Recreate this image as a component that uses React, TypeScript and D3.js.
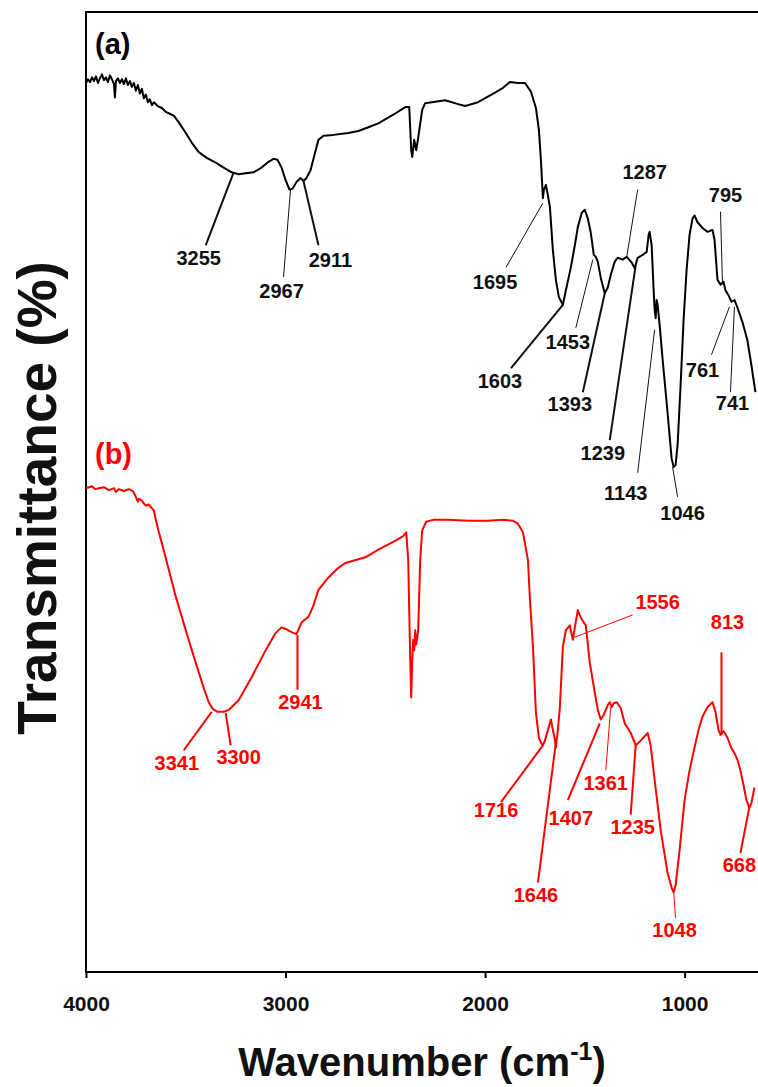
import React, { useEffect, useRef } from "react";
import * as d3 from "d3";

// FTIR spectra, wavenumber (cm-1) vs transmittance (arbitrary offset units 0-100)
const xTicks = [4000, 3000, 2000, 1000];

const spectrumA: [number, number][] = [
  [4000, 92.6], [3990, 93.0], [3980, 92.7], [3970, 93.2], [3960, 92.8], [3950, 93.3],
  [3940, 92.6], [3930, 93.1], [3920, 93.5], [3910, 92.9], [3900, 93.2], [3890, 92.7],
  [3880, 93.4], [3870, 93.0], [3860, 92.5], [3855, 91.1], [3850, 92.8], [3840, 93.1],
  [3830, 92.6], [3820, 93.0], [3810, 92.5], [3800, 93.1], [3790, 92.4], [3780, 92.8],
  [3770, 92.2], [3760, 92.6], [3750, 91.8], [3740, 92.4], [3730, 91.5], [3720, 92.0],
  [3710, 91.0], [3700, 91.4], [3690, 90.6], [3680, 90.9], [3670, 90.3], [3660, 90.6],
  [3640, 90.2], [3620, 90.0], [3600, 89.6], [3580, 89.4], [3560, 89.2], [3535, 88.5],
  [3500, 87.4], [3470, 86.4], [3435, 85.4], [3395, 84.8], [3350, 84.3], [3310, 83.8],
  [3270, 83.3], [3235, 83.1], [3200, 83.2], [3160, 83.3], [3120, 83.8], [3085, 84.4],
  [3060, 84.7], [3040, 84.6], [3020, 83.8], [3000, 82.5], [2980, 81.5], [2965, 81.6],
  [2945, 82.3], [2925, 82.7], [2910, 82.4], [2895, 82.7], [2875, 83.5], [2855, 85.1],
  [2835, 86.7], [2810, 87.1], [2760, 87.2], [2685, 87.4], [2635, 87.6], [2585, 88.0],
  [2535, 88.4], [2460, 89.3], [2400, 90.1], [2380, 90.1], [2370, 85.6], [2365, 84.9],
  [2355, 86.7], [2345, 85.6], [2335, 86.9], [2315, 89.8], [2300, 90.5], [2200, 90.8],
  [2135, 90.4], [2100, 90.2], [2035, 90.6], [1950, 91.6], [1910, 92.1], [1875, 92.7],
  [1835, 92.6], [1800, 92.6], [1770, 91.7], [1745, 90.0], [1730, 87.7], [1720, 84.6],
  [1710, 80.6], [1705, 81.5], [1695, 82.0], [1685, 80.9], [1675, 79.7], [1660, 75.2],
  [1645, 72.1], [1630, 70.3], [1610, 69.5], [1595, 71.0], [1570, 73.4], [1550, 75.7],
  [1535, 77.6], [1515, 79.1], [1500, 79.4], [1485, 78.5], [1470, 77.0], [1455, 74.7],
  [1445, 74.5], [1435, 74.0], [1420, 72.3], [1400, 70.7], [1385, 71.3], [1370, 72.6],
  [1350, 74.0], [1335, 74.4], [1310, 74.2], [1290, 74.5], [1265, 73.9], [1250, 73.3],
  [1235, 74.4], [1210, 74.7], [1190, 75.0], [1180, 76.8], [1175, 77.1], [1165, 75.7],
  [1155, 71.0], [1150, 69.0], [1145, 68.1], [1140, 70.0], [1135, 69.5], [1125, 67.4],
  [1110, 63.8], [1085, 58.2], [1065, 53.5], [1055, 52.6], [1045, 52.8], [1035, 54.9],
  [1020, 61.1], [1005, 67.9], [990, 73.1], [975, 76.8], [960, 78.5], [950, 78.8],
  [935, 78.1], [910, 77.5], [885, 77.1], [860, 77.3], [850, 76.3], [835, 72.1],
  [820, 71.6], [805, 71.9], [795, 71.0], [780, 70.5], [765, 69.8], [750, 70.0],
  [735, 69.2], [710, 67.7], [685, 65.8], [665, 63.2], [645, 60.4],
];

const spectrumB: [number, number][] = [
  [4000, 50.4], [3985, 50.5], [3970, 50.6], [3955, 50.3], [3935, 50.4], [3910, 50.5],
  [3885, 50.2], [3860, 50.4], [3850, 50.0], [3835, 50.3], [3810, 50.1], [3785, 50.3],
  [3765, 50.1], [3750, 49.5], [3740, 49.0], [3735, 49.3], [3720, 49.1], [3710, 48.8],
  [3700, 48.6], [3685, 48.7], [3670, 48.3], [3660, 48.1], [3650, 47.1], [3635, 45.8],
  [3620, 44.7], [3585, 41.9], [3550, 39.1], [3500, 35.6], [3450, 32.2], [3410, 29.6],
  [3385, 28.1], [3365, 27.4], [3340, 27.1], [3310, 27.1], [3285, 27.3], [3235, 28.3],
  [3170, 30.7], [3100, 33.5], [3050, 35.3], [3020, 35.9], [2995, 35.7], [2970, 35.4],
  [2945, 35.2], [2920, 36.4], [2885, 37.0], [2860, 38.2], [2835, 39.8], [2785, 41.1],
  [2735, 42.1], [2700, 42.6], [2600, 43.2], [2535, 44.0], [2460, 44.8], [2410, 45.4],
  [2395, 45.8], [2385, 42.9], [2375, 32.5], [2370, 28.6], [2365, 32.5], [2360, 34.6],
  [2355, 33.5], [2350, 35.6], [2345, 34.1], [2335, 35.6], [2325, 42.9], [2315, 46.0],
  [2295, 46.9], [2260, 47.1], [2185, 47.1], [2085, 47.0], [1985, 47.0], [1910, 47.1],
  [1860, 47.0], [1835, 46.7], [1810, 45.8], [1785, 42.9], [1775, 38.8], [1760, 33.9],
  [1745, 27.0], [1730, 24.4], [1720, 23.9], [1710, 23.6], [1700, 24.1], [1685, 25.2],
  [1670, 26.3], [1660, 25.2], [1650, 24.2], [1645, 23.4], [1635, 25.2], [1625, 27.6],
  [1610, 33.9], [1595, 35.6], [1575, 36.1], [1560, 34.6], [1550, 35.9], [1535, 37.7],
  [1520, 36.9], [1495, 36.1], [1475, 32.2], [1450, 29.1], [1435, 27.3], [1420, 26.3],
  [1405, 26.8], [1385, 27.8], [1375, 28.1], [1365, 27.6], [1355, 28.0], [1340, 28.1],
  [1320, 27.5], [1300, 25.9], [1270, 24.9], [1245, 23.6], [1220, 24.1], [1185, 24.9],
  [1170, 23.6], [1150, 20.0], [1120, 14.8], [1085, 10.3], [1065, 8.8], [1055, 8.3],
  [1045, 9.0], [1025, 12.7], [1000, 17.9], [975, 21.0], [950, 23.4], [930, 25.2],
  [910, 26.6], [885, 27.6], [860, 28.1], [845, 27.1], [830, 25.2], [820, 24.7],
  [805, 25.1], [785, 24.4], [765, 23.3], [750, 22.8], [735, 22.1], [720, 21.0],
  [705, 19.5], [690, 17.9], [675, 17.1], [665, 17.6], [650, 19.2],
];

// peak labels: text, curve tip (wn, T), leader end (wn, T), text centre (wn, T)
const peakLabelsA = ["3255", "2967", "2911", "1695", "1287", "795", "1603", "1453", "1393", "1239", "1143", "1046", "761", "741"];
const peakTipsA: [number, number][] = [[3260, 83.3], [2975, 81.5], [2910, 82.4], [1710, 80.1], [1290, 74.5], [810, 71.6], [1610, 69.5], [1460, 74.2], [1400, 70.7], [1245, 73.6], [1150, 66.9], [1060, 52.6], [775, 69.3], [750, 69.3]];
const peakLeadsA: [number, number][] = [[3400, 75.7], [3010, 72.4], [2835, 75.7], [1895, 73.4], [1235, 81.5], [820, 79.2], [1870, 62.9], [1545, 67.1], [1510, 60.4], [1375, 55.4], [1235, 52.0], [1035, 49.5], [865, 64.3], [770, 60.4]];
const peakTextA: [number, number][] = [[3435, 74.4], [3020, 70.9], [2775, 74.2], [1950, 71.9], [1200, 83.3], [795, 80.9], [1925, 61.6], [1585, 65.6], [1575, 59.2], [1410, 54.1], [1295, 49.9], [1010, 47.8], [910, 62.7], [760, 59.3]];
const peakThinA = [false, true, false, true, true, true, false, true, false, false, true, true, true, true];

const peakLabelsB = ["3341", "3300", "2941", "1556", "813", "1716", "1646", "1361", "1407", "1235", "1048", "668"];
const peakTipsB: [number, number][] = [[3370, 27.1], [3300, 27.0], [2940, 35.1], [1560, 34.8], [815, 24.7], [1710, 23.6], [1645, 23.9], [1370, 27.6], [1425, 25.9], [1245, 23.6], [1055, 8.5], [675, 17.2]];
const peakLeadsB: [number, number][] = [[3510, 23.1], [3275, 23.6], [2940, 29.4], [1260, 37.2], [815, 33.3], [1920, 17.7], [1735, 9.3], [1395, 21.0], [1585, 17.9], [1270, 16.4], [1045, 5.6], [720, 12.4]];
const peakTextB: [number, number][] = [[3545, 21.8], [3235, 22.4], [2925, 28.1], [1135, 38.5], [785, 36.5], [1945, 16.9], [1745, 8.0], [1395, 19.7], [1570, 16.0], [1260, 15.1], [1050, 4.4], [725, 11.1]];
const peakThinB = [false, false, false, true, false, false, false, true, false, false, true, false];

const W = 758;
const H = 1087;
const FONT = "'Liberation Sans', Arial, Helvetica, sans-serif";

export default function App() {
  const ref = useRef<SVGSVGElement | null>(null);

  useEffect(() => {
    const svg = d3.select(ref.current);
    svg.selectAll("*").remove();

    const left = 86, top = 12, bottom = 972;
    const x = d3.scaleLinear().domain([4000, 632]).range([left, W]);
    const y = d3.scaleLinear().domain([0, 100]).range([bottom, top]);

    svg.append("defs").append("clipPath").attr("id", "plotclip")
      .append("rect").attr("x", left).attr("y", top).attr("width", W - left).attr("height", bottom - top);

    // frame (right side falls outside the picture)
    svg.append("path")
      .attr("d", `M${W + 10},${top}H${left}V${bottom}H${W + 10}`)
      .attr("fill", "none").attr("stroke", "#000").attr("stroke-width", 2);

    const axis = svg.append("g").attr("transform", `translate(0,${bottom})`)
      .call(d3.axisBottom(x).tickValues(xTicks).tickSize(6).tickSizeOuter(0).tickFormat(d3.format("d")));
    axis.select(".domain").remove();
    axis.selectAll("line").attr("stroke", "#000").attr("stroke-width", 2);
    axis.selectAll("text")
      .attr("font-family", FONT).attr("font-size", 21).attr("font-weight", "bold")
      .attr("fill", "#111").attr("dy", "1.45em");

    const line = d3.line<[number, number]>().x(d => x(d[0])).y(d => y(d[1]));
    const plot = svg.append("g").attr("clip-path", "url(#plotclip)");
    plot.append("path").datum(spectrumA).attr("d", line)
      .attr("fill", "none").attr("stroke", "#000").attr("stroke-width", 2).attr("stroke-linejoin", "round");
    plot.append("path").datum(spectrumB).attr("d", line)
      .attr("fill", "none").attr("stroke", "#ff0000").attr("stroke-width", 2).attr("stroke-linejoin", "round");

    const drawPeaks = (labels: string[], tips: [number, number][], leads: [number, number][], txt: [number, number][], thin: boolean[], color: string) => {
      const g = svg.append("g");
      labels.forEach((lab, i) => {
        g.append("line")
          .attr("x1", x(tips[i][0])).attr("y1", y(tips[i][1]))
          .attr("x2", x(leads[i][0])).attr("y2", y(leads[i][1]))
          .attr("stroke", color).attr("stroke-width", thin[i] ? 1 : 2);
        g.append("text")
          .attr("x", x(txt[i][0])).attr("y", y(txt[i][1]))
          .attr("text-anchor", "middle").attr("dominant-baseline", "central")
          .attr("font-family", FONT).attr("font-size", 20).attr("font-weight", "bold")
          .attr("fill", color).text(lab);
      });
    };
    drawPeaks(peakLabelsA, peakTipsA, peakLeadsA, peakTextA, peakThinA, "#111");
    drawPeaks(peakLabelsB, peakTipsB, peakLeadsB, peakTextB, peakThinB, "#ff0000");

    svg.append("text").attr("x", 95).attr("y", 54)
      .attr("font-family", FONT).attr("font-size", 29).attr("font-weight", "bold").attr("fill", "#000").text("(a)");
    svg.append("text").attr("x", 95).attr("y", 464)
      .attr("font-family", FONT).attr("font-size", 29).attr("font-weight", "bold").attr("fill", "#ff0000").text("(b)");

    // axis titles
    svg.append("text")
      .attr("transform", `translate(56,498) rotate(-90)`)
      .attr("text-anchor", "middle")
      .attr("font-family", FONT).attr("font-size", 55).attr("font-weight", "bold").attr("fill", "#111")
      .text("Transmittance (%)");

    const xt = svg.append("text")
      .attr("x", (left + W) / 2).attr("y", 1076)
      .attr("text-anchor", "middle")
      .attr("font-family", FONT).attr("font-size", 40).attr("font-weight", "bold").attr("fill", "#111");
    xt.append("tspan").text("Wavenumber (cm");
    xt.append("tspan").attr("font-size", 25).attr("dy", -16).text("-1");
    xt.append("tspan").attr("dy", 16).text(")");
  }, []);

  return (
    <svg ref={ref} width={W} height={H}
      style={{ position: "absolute", left: 0, top: 0, background: "#fff" }} />
  );
}
